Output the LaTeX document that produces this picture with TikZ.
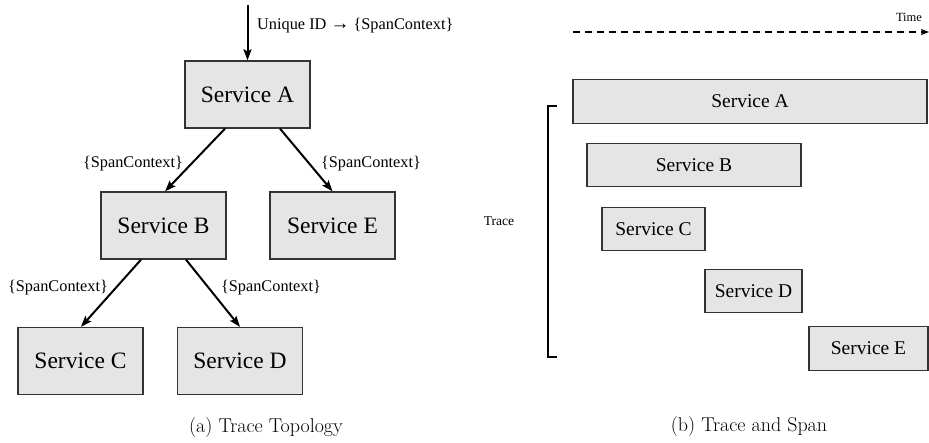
\documentclass[tikz,border=0pt]{standalone}
\usepackage{fontspec}
\setmainfont{Liberation Serif}
\newfontfamily\tnr{Liberation Serif}
\newfontfamily\lmfont{Latin Modern Roman}
\usetikzlibrary{calc,arrows.meta}
\begin{document}
\begin{tikzpicture}[x=1pt,y=-1pt,
  svc/.style={draw=black!80,line width=1.3pt,fill=black!10,inner sep=0pt,minimum width=125pt,minimum height=67pt,font=\tnr\fontsize{23.5}{27}\selectfont},
  bar/.style={draw=black!80,line width=1.2pt,fill=black!10,inner sep=0pt,minimum height=43.5pt,font=\tnr\fontsize{19.5}{23}\selectfont},
  conn/.style={line width=2pt,-{Stealth[length=11pt,width=8pt,inset=2pt]}},
  lbl/.style={font=\tnr\fontsize{16.3}{19}\selectfont,inner sep=0pt},
  captxt/.style={font=\lmfont\fontsize{20}{24}\selectfont,inner sep=0pt}]
\useasboundingbox (0,0) rectangle (929,442);
% left panel
\node[svc] (A) at (247.5,94.5) {Service A};
\node[svc] (B) at (163.5,225.5) {Service B};
\node[svc] (E) at (332.5,225.5) {Service E};
\node[svc] (C) at (80.5,361) {Service C};
\node[svc] (D) at (240,361) {Service D};
\coordinate (in) at (247.5,5);
\draw[conn] (in) -- (A.north);
\node[lbl,anchor=west] (inl) at (257,26) {Unique ID {\fontsize{19}{19}\selectfont →} \{SpanContext\}};
\draw[conn] ($(A.south)+(-22.5,0)$) -- ($(B.north)+(1.5,0)$);
\draw[conn] ($(A.south)+(32.5,0)$) -- ($(E.north)+(0,0)$);
\draw[conn] ($(B.south)+(-22.5,0)$) -- ($(C.north)+(0.5,0)$);
\draw[conn] ($(B.south)+(22.5,0)$) -- ($(D.north)+(0,0)$);
\node[lbl] (l1) at (133,164) {\{SpanContext\}};
\node[lbl] (l2) at (371,164) {\{SpanContext\}};
\node[lbl] (l3) at (58,288) {\{SpanContext\}};
\node[lbl] (l4) at (271,288) {\{SpanContext\}};
\node[captxt] (capa) at (266,428) {(a) Trace Topology};
% right panel
\coordinate (t0) at (573,32);
\coordinate (t1) at (929,32);
\draw[line width=1.5pt,dash pattern=on 7pt off 5pt,-{Stealth[length=8pt,width=6pt,inset=1.5pt]}] (t0) -- (t1);
\node[font=\tnr\fontsize{12.5}{15}\selectfont,inner sep=0pt] (time) at (909,17) {Time};
\node[bar,minimum width=354pt] (rA) at (750,101.5) {Service A};
\node[bar,minimum width=214pt] (rB) at (694,165) {Service B};
\node[bar,minimum width=103pt] (rC) at (653.5,229) {Service C};
\node[bar,minimum width=97pt] (rD) at (753.5,291) {Service D};
\node[bar,minimum width=119pt] (rE) at (868.5,348.5) {Service E};
\draw[line width=1.4pt] (557,106) -- (548,106) -- (548,357) -- (557,357);
\node[font=\tnr\fontsize{13.5}{16}\selectfont,inner sep=0pt] (trace) at (499,221) {Trace};
\node[captxt] (capb) at (749,427) {(b) Trace and Span};
\end{tikzpicture}
\end{document}
